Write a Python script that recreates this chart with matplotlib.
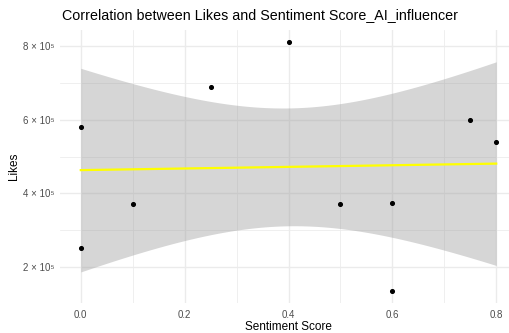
import numpy as np
import matplotlib.pyplot as plt
from matplotlib.ticker import FixedLocator, FuncFormatter

# Sentiment score vs likes per post
sentiment = [0.0, 0.0, 0.1, 0.25, 0.4, 0.5, 0.6, 0.6, 0.75, 0.8]
likes = [579000, 252000, 371000, 689000, 810000, 370000, 373000, 136000, 600000, 540000]

plt.rcParams['font.family'] = ['Liberation Sans', 'DejaVu Sans']

x = np.array(sentiment)
y = np.array(likes, dtype=float)

# linear fit with 95% confidence band (like geom_smooth(method="lm"))
n = len(x)
slope, intercept = np.polyfit(x, y, 1)
resid = y - (intercept + slope * x)
s = np.sqrt(np.sum(resid ** 2) / (n - 2))
sxx = np.sum((x - x.mean()) ** 2)
t_crit = 2.306  # t(0.975, df=8)
xs = np.linspace(x.min(), x.max(), 80)
fit = intercept + slope * xs
se = s * np.sqrt(1 / n + (xs - x.mean()) ** 2 / sxx)
lo, hi = fit - t_crit * se, fit + t_crit * se

fig = plt.figure(figsize=(5.09, 3.33), dpi=100)
ax = fig.add_axes([60 / 509, 1 - 303 / 333, 457 / 509, 273 / 333])

ax.fill_between(xs, lo, hi, color='#999999', alpha=0.4, linewidth=0, zorder=2)
ax.plot(xs, fit, color='#FFFF00', linewidth=1.6, zorder=3)
ax.scatter(x, y, s=7, color='black', zorder=4)

xr = x.max() - x.min()
ax.set_xlim(x.min() - 0.05 * xr, x.max() + 0.05 * xr)
ymin = min(y.min(), lo.min())
ymax = max(y.max(), hi.max())
yr = ymax - ymin
ax.set_ylim(ymin - 0.05 * yr, ymax + 0.05 * yr)

ax.xaxis.set_major_locator(FixedLocator([0.0, 0.2, 0.4, 0.6, 0.8]))
ax.xaxis.set_minor_locator(FixedLocator([0.1, 0.3, 0.5, 0.7]))
ax.yaxis.set_major_locator(FixedLocator([2e5, 4e5, 6e5, 8e5]))
ax.yaxis.set_minor_locator(FixedLocator([1e5, 3e5, 5e5, 7e5]))
ax.xaxis.set_major_formatter(FuncFormatter(lambda v, p: f"{v:.1f}"))
ax.yaxis.set_major_formatter(FuncFormatter(lambda v, p: f"{v / 1e5:.0f} \u00d7 10\u2075"))

ax.grid(which='major', color='#EBEBEB', linewidth=1.0, zorder=0)
ax.grid(which='minor', color='#EBEBEB', linewidth=0.55, zorder=0)
ax.set_axisbelow(True)
for sp in ax.spines.values():
    sp.set_visible(False)
ax.tick_params(which='both', length=0, labelsize=7, colors='#4D4D4D', pad=4)
ax.tick_params(axis='x', pad=5)

ax.set_xlabel('Sentiment Score', fontsize=8.5, labelpad=1)
ax.set_ylabel('Likes', fontsize=8.5, labelpad=2)
ax.set_title('Correlation between Likes and Sentiment Score_AI_influencer',
             fontsize=10.3, loc='left', pad=8, x=0.004)

fig.savefig('out.png', dpi=100)
